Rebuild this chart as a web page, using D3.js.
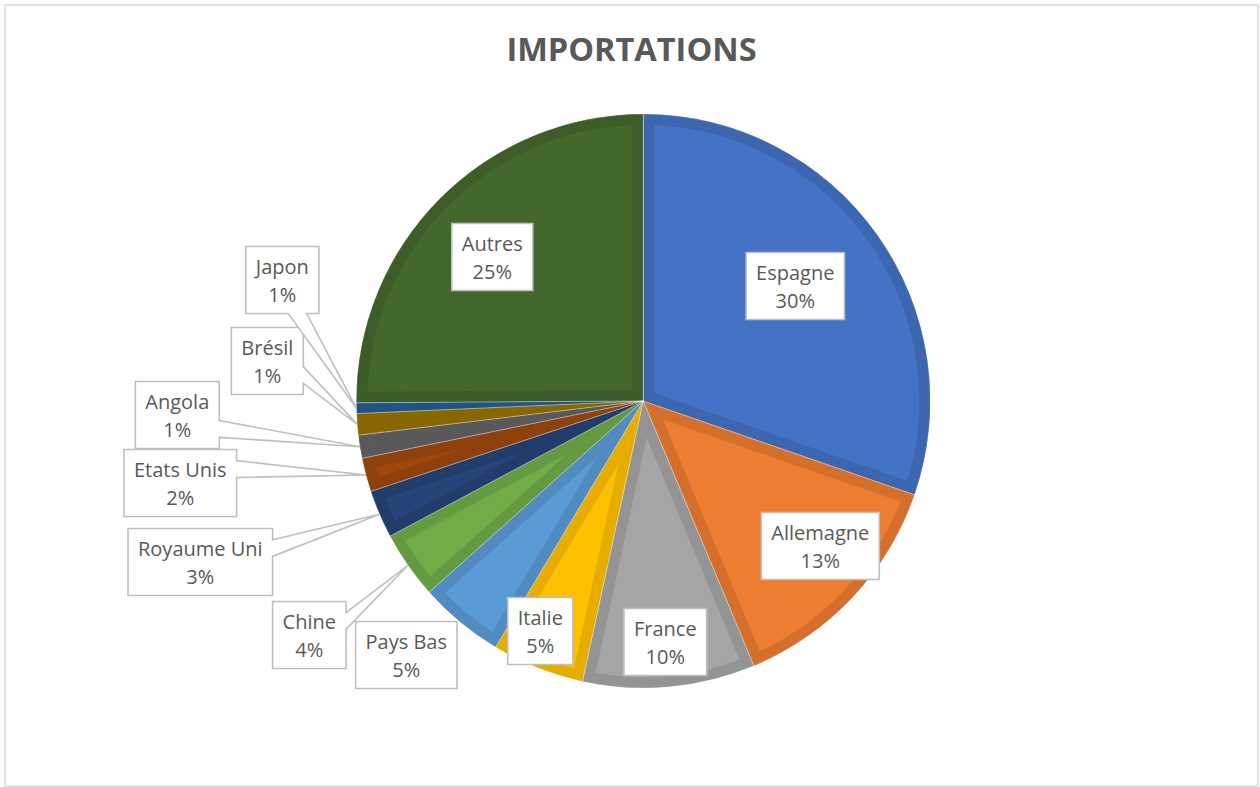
<!DOCTYPE html>
<html>
<head>
<meta charset="utf-8">
<script src="https://cdn.jsdelivr.net/npm/d3@7"></script>
<style>
  html, body { margin: 0; padding: 0; background: #fff; }
  svg { display: block; }
</style>
</head>
<body>
<svg id="chart" width="1260" height="787"></svg>
<script>
// Import shares by partner country (percent of total imports)
const countries = ["Espagne", "Allemagne", "France", "Italie", "Pays Bas", "Chine",
                   "Royaume Uni", "Etats Unis", "Angola", "Brésil", "Japon", "Autres"];
const shares = [30.3, 13.4, 9.7, 5.2, 4.8, 3.8, 2.7, 1.9, 1.3, 1.2, 0.6, 25.1];
const sliceColors = ["#4472C4", "#ED7D31", "#A5A5A5", "#FFC000", "#5B9BD5", "#70AD47",
                     "#264478", "#9E480E", "#636363", "#997300", "#255E91", "#43682B"];
const chartTitle = "IMPORTATIONS";

// Label box centres, as offsets from the pie centre
const labelOffset = [
  [152, -115], [177, 145], [22, 241], [-103, 230], [-237, 254], [-334, 234],
  [-443, 161], [-463, 82], [-466, 14], [-376, -40], [-361, -121], [-151, -144]
];

const W = 1260, H = 787;
const cx = 643.3, cy = 401, R = 287;
const textColor = "#595959", lineColor = "#BFBFBF";

const svg = d3.select("#chart");

// Chart frame
svg.append("rect")
  .attr("x", 5).attr("y", 5).attr("width", 1253).attr("height", 781)
  .attr("fill", "#fff").attr("stroke", "#D9D9D9").attr("stroke-width", 1.5);

// Title
svg.append("text")
  .attr("x", 631.5).attr("y", 61)
  .attr("text-anchor", "middle")
  .attr("font-family", "'Open Sans', sans-serif")
  .attr("font-weight", 700)
  .attr("font-size", 32.5)
  .attr("fill", textColor)
  .text(chartTitle);

const data = countries.map((c, i) => ({ name: c, value: shares[i], color: sliceColors[i], off: labelOffset[i] }));
const total = d3.sum(shares);

const pie = d3.pie().value(d => d.value).sort(null).startAngle(0).endAngle(2 * Math.PI);
const arcs = pie(data);
const arc = d3.arc().innerRadius(0).outerRadius(R);

const g = svg.append("g").attr("transform", `translate(${cx},${cy})`);
const defs = svg.append("defs");

// Slices: solid fill with a darker inner band along the edges
arcs.forEach((a, i) => {
  const id = "clip-slice-" + i;
  defs.append("clipPath").attr("id", id)
    .append("path").attr("d", arc(a));
  g.append("path")
    .attr("d", arc(a))
    .attr("clip-path", `url(#${id})`)
    .attr("fill", a.data.color)
    .attr("stroke", d3.color(a.data.color).darker(0.3))
    .attr("stroke-width", 22)
    .attr("stroke-linejoin", "miter");
});
// Fine separators between slices
g.selectAll("path.sep").data(arcs).join("path")
  .attr("class", "sep")
  .attr("d", arc)
  .attr("fill", "none")
  .attr("stroke", "#fff")
  .attr("stroke-opacity", 0.3)
  .attr("stroke-width", 0.8);

// Data labels (callout boxes)
const fontSize = 20, boxH = 67, padX = 10;
const measure = svg.append("text")
  .attr("font-family", "'Open Sans', sans-serif")
  .attr("font-size", fontSize)
  .attr("visibility", "hidden");
function textWidth(s) { measure.text(s); return measure.node().getComputedTextLength(); }

const labels = svg.append("g");
arcs.forEach(a => {
  const d = a.data;
  const pct = Math.round(d.value / total * 100) + "%";
  const w = Math.max(textWidth(d.name), textWidth(pct)) + 2 * padX;
  const h = boxH;
  const bx = cx + d.off[0], by = cy + d.off[1];
  const x0 = bx - w / 2, y0 = by - h / 2, x1 = bx + w / 2, y1 = by + h / 2;

  // anchor point on the slice rim at the mid-angle
  const mid = (a.startAngle + a.endAngle) / 2;
  const tx = cx + R * Math.sin(mid), ty = cy - R * Math.cos(mid);
  const inside = tx >= x0 - 12 && tx <= x1 + 12 && ty >= y0 - 12 && ty <= y1 + 12;
  const r2 = Math.hypot(bx - cx, by - cy) < R;

  let dPath;
  if (inside || r2) {
    dPath = `M${x0},${y0}H${x1}V${y1}H${x0}Z`;
  } else {
    // rectangle callout with a wedge pointing at the slice
    const dx = tx - bx, dy = ty - by;
    const dq = dx * h / w;
    const vertical = Math.abs(dy) - Math.abs(dq) > 0;
    const xa = x0 + w * (dx > 0 ? 7 : 2) / 12, xb = x0 + w * (dx > 0 ? 10 : 5) / 12;
    const ya = y0 + h * (dy > 0 ? 7 : 2) / 12, yb = y0 + h * (dy > 0 ? 10 : 5) / 12;
    if (vertical && dy > 0) {
      dPath = `M${x0},${y0}H${x1}V${y1}H${xb}L${tx},${ty}L${xa},${y1}H${x0}Z`;
    } else if (vertical) {
      dPath = `M${x0},${y0}H${xa}L${tx},${ty}L${xb},${y0}H${x1}V${y1}H${x0}Z`;
    } else if (dx > 0) {
      dPath = `M${x0},${y0}H${x1}V${ya}L${tx},${ty}L${x1},${yb}V${y1}H${x0}Z`;
    } else {
      dPath = `M${x0},${y0}H${x1}V${y1}H${x0}V${yb}L${tx},${ty}L${x0},${ya}Z`;
    }
  }
  labels.append("path")
    .attr("d", dPath)
    .attr("fill", "#fff")
    .attr("stroke", lineColor)
    .attr("stroke-width", 1.6)
    .attr("stroke-linejoin", "miter");

  const t = labels.append("text")
    .attr("text-anchor", "middle")
    .attr("font-family", "'Open Sans', sans-serif")
    .attr("font-size", fontSize)
    .attr("fill", textColor);
  t.append("tspan").attr("x", bx).attr("y", by - 6.5).text(d.name);
  t.append("tspan").attr("x", bx).attr("y", by + 21.5).text(pct);
});
measure.remove();
</script>
</body>
</html>
